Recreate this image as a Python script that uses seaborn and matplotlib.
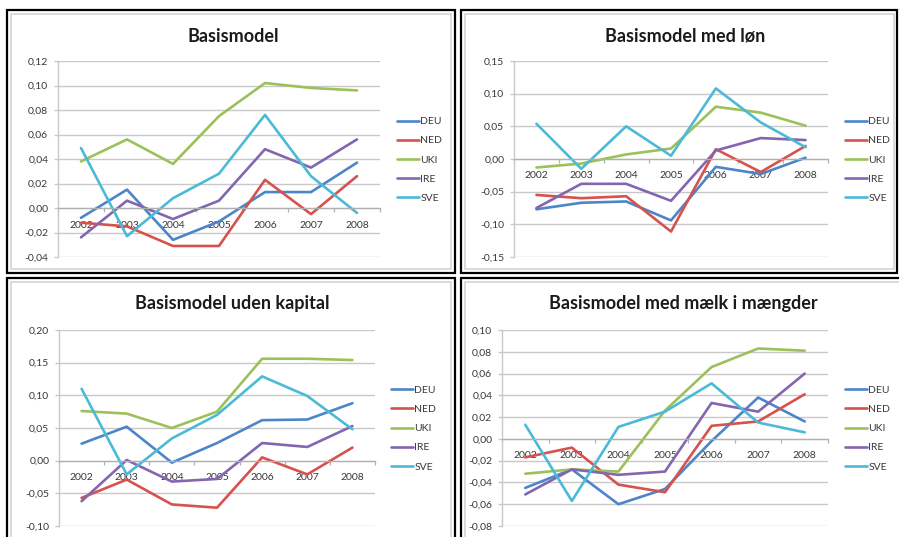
import matplotlib
matplotlib.use("Agg")
import matplotlib.pyplot as plt
from matplotlib.patches import Rectangle
from matplotlib.ticker import FuncFormatter, MultipleLocator
import numpy as np
import pandas as pd
import seaborn as sns

years = ["2002", "2003", "2004", "2005", "2006", "2007", "2008"]
countries = ["DEU", "NED", "UKI", "IRE", "SVE"]
colors = ["#4c85c8", "#d6524d", "#9cc15a", "#8465b0", "#4bbad6"]

# Basismodel
basis = {
    "DEU": [-0.008, 0.015, -0.026, -0.011, 0.013, 0.013, 0.037],
    "NED": [-0.012, -0.015, -0.031, -0.031, 0.023, -0.005, 0.026],
    "UKI": [0.038, 0.056, 0.036, 0.075, 0.102, 0.098, 0.096],
    "IRE": [-0.024, 0.006, -0.009, 0.006, 0.048, 0.033, 0.056],
    "SVE": [0.049, -0.023, 0.008, 0.028, 0.076, 0.026, -0.004],
}
# Basismodel med løn
med_loen = {
    "DEU": [-0.077, -0.067, -0.065, -0.094, -0.012, -0.023, 0.002],
    "NED": [-0.055, -0.060, -0.057, -0.111, 0.015, -0.020, 0.020],
    "UKI": [-0.013, -0.007, 0.007, 0.016, 0.080, 0.071, 0.051],
    "IRE": [-0.075, -0.038, -0.038, -0.064, 0.013, 0.032, 0.029],
    "SVE": [0.054, -0.015, 0.050, 0.005, 0.108, 0.056, 0.018],
}
# Basismodel uden kapital
uden_kapital = {
    "DEU": [0.026, 0.052, -0.003, 0.027, 0.062, 0.063, 0.088],
    "NED": [-0.057, -0.029, -0.067, -0.072, 0.005, -0.021, 0.020],
    "UKI": [0.076, 0.072, 0.050, 0.075, 0.156, 0.156, 0.154],
    "IRE": [-0.062, 0.001, -0.032, -0.028, 0.027, 0.021, 0.053],
    "SVE": [0.110, -0.021, 0.034, 0.070, 0.129, 0.099, 0.048],
}
# Basismodel med mælk i mængder
maelk = {
    "DEU": [-0.045, -0.028, -0.060, -0.046, -0.002, 0.038, 0.016],
    "NED": [-0.017, -0.008, -0.042, -0.049, 0.012, 0.016, 0.041],
    "UKI": [-0.032, -0.028, -0.030, 0.026, 0.066, 0.083, 0.081],
    "IRE": [-0.051, -0.028, -0.033, -0.030, 0.033, 0.025, 0.060],
    "SVE": [0.013, -0.057, 0.011, 0.025, 0.051, 0.015, 0.006],
}

titles = ["Basismodel", "Basismodel med løn", "Basismodel uden kapital",
          "Basismodel med mælk i mængder"]
datasets = [basis, med_loen, uden_kapital, maelk]
y_ranges = [(-0.04, 0.12, 0.02), (-0.15, 0.15, 0.05),
            (-0.10, 0.20, 0.05), (-0.08, 0.10, 0.02)]

sns.set_style("white")
plt.rcParams["font.family"] = ["Lato", "DejaVu Sans"]

W, H = 899, 537
fig = plt.figure(figsize=(W / 100, H / 100), dpi=100)


def fx(px):
    return px / W


def fy(py):
    return 1 - py / H


def frame(x0, y0, x1, y1):
    # black outer border plus light grey inner border, like the pasted Excel charts
    fig.add_artist(Rectangle((fx(x0), fy(y1)), fx(x1 - x0), (y1 - y0) / H,
                             transform=fig.transFigure, fill=False,
                             ec="black", lw=1.6))
    fig.add_artist(Rectangle((fx(x0 + 4), fy(y1 - 4)), fx(x1 - x0 - 8), (y1 - y0 - 8) / H,
                             transform=fig.transFigure, fill=False,
                             ec="#d4d4d4", lw=1.2))


frame(6.5, 10, 455, 273)
frame(461, 10, 897.5, 273)
frame(6.5, 278, 455, 560)
frame(461, 278, 905, 560)

# plot areas in pixels: left, top, right, bottom
areas = [(58, 61, 380, 257), (514, 61, 828, 257),
         (59, 330, 375, 526), (502, 330, 828, 526)]
title_pos = [(233, 36), (685, 36), (232, 304), (683, 304)]
legend_pos = [(397, 160), (845, 160), (391, 428.5), (845, 428.5)]

fmt = FuncFormatter(lambda v, p: f"{v:.2f}".replace(".", ","))
axis_grey = "#b0b0b0"

for data, title, (lo, hi, step), (l, t, r, b), tp, lp in zip(
        datasets, titles, y_ranges, areas, title_pos, legend_pos):
    ax = fig.add_axes([fx(l), fy(b), fx(r - l), (b - t) / H])
    df = pd.DataFrame({
        "pos": np.tile(np.arange(len(years)), len(countries)),
        "value": np.concatenate([data[c] for c in countries]),
        "country": np.repeat(countries, len(years)),
    })
    sns.lineplot(data=df, x="pos", y="value", hue="country", hue_order=countries,
                 palette=colors, lw=1.9, ax=ax, sort=False)

    ax.set_xlim(-0.5, len(years) - 0.5)
    ax.set_ylim(lo, hi)
    ax.yaxis.set_major_locator(MultipleLocator(step))
    ax.yaxis.set_major_formatter(fmt)
    ax.yaxis.grid(True, color="#c8c8c8", lw=1.0)
    ax.set_axisbelow(True)
    ax.set_xlabel("")
    ax.set_ylabel("")

    for s in ["top", "right"]:
        ax.spines[s].set_visible(False)
    ax.spines["left"].set_color("#c8c8c8")
    ax.spines["left"].set_linewidth(1.0)
    ax.spines["bottom"].set_position(("data", 0))
    ax.spines["bottom"].set_color(axis_grey)
    ax.spines["bottom"].set_linewidth(0.9)

    ax.set_xticks(np.arange(-0.5, len(years), 1))
    ax.set_xticklabels([])
    ax.set_xticks(np.arange(len(years)), minor=True)
    ax.set_xticklabels(years, minor=True)
    ax.tick_params(axis="x", which="major", direction="out", length=3,
                   color=axis_grey, width=0.9, bottom=True)
    ax.tick_params(axis="x", which="minor", length=0, pad=9,
                   labelsize=7.5, labelcolor="#383838", bottom=True)
    ax.tick_params(axis="y", direction="out", length=3, color="#c8c8c8",
                   width=1.0, left=True, pad=4, labelsize=7.5, labelcolor="#383838")

    handles, labels = ax.get_legend_handles_labels()
    ax.legend(handles, labels, loc="center left",
              bbox_to_anchor=(fx(lp[0]), fy(lp[1])), bbox_transform=fig.transFigure,
              frameon=False, fontsize=7.5, handlelength=2.1, handletextpad=0.15,
              labelspacing=0.95, borderpad=0, borderaxespad=0, labelcolor="#383838")

    fig.text(fx(tp[0]), fy(tp[1]), title, ha="center", va="center",
             fontsize=13, fontweight="bold", color="#1a1a1a")

fig.savefig("out.png", dpi=100)
